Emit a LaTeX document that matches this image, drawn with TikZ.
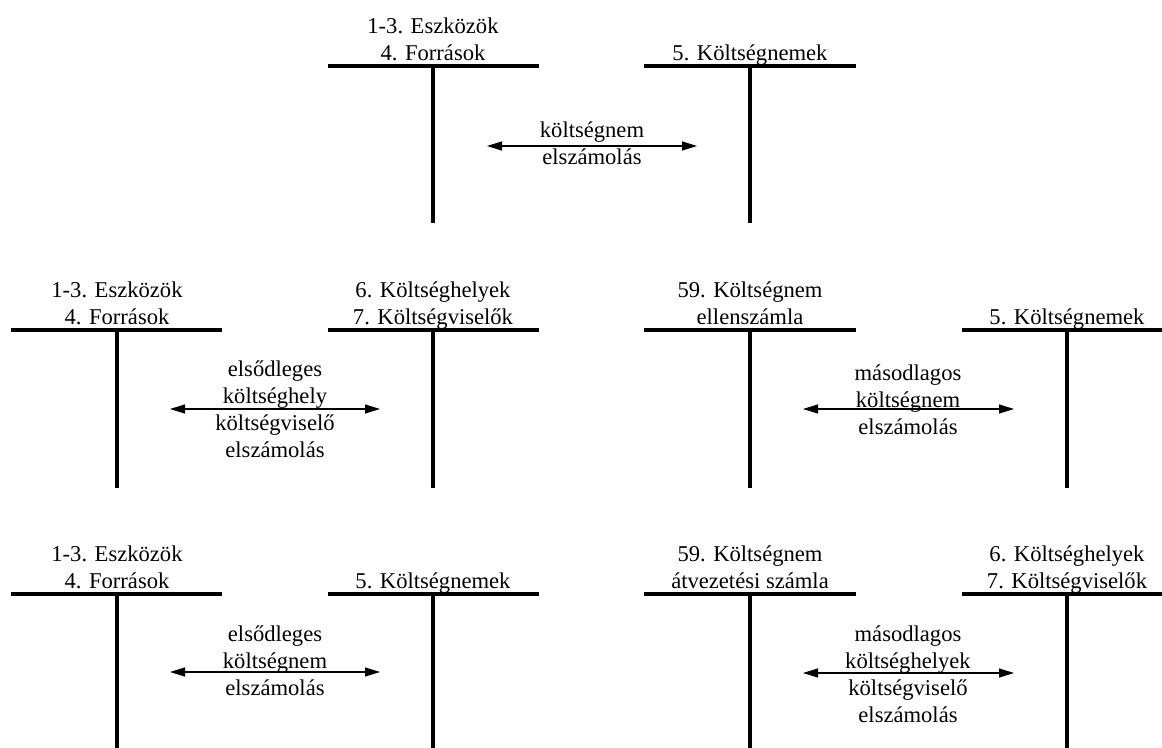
\documentclass[tikz,border=0pt]{standalone}
\usepackage{fontspec}
\setmainfont{Liberation Serif}
\usetikzlibrary{arrows.meta}

\begin{document}
\begin{tikzpicture}[x=0.5pt, y=-0.5pt,
    every node/.style={font=\fontsize{11.3}{13.5}\selectfont},
    acct/.style={line width=1.6pt},
    twoway/.style={{Triangle[length=7.5pt,width=4.5pt]}-{Triangle[length=7.5pt,width=4.5pt]}, line width=0.6pt},
    title/.style={anchor=south, align=center, inner sep=0pt, text depth=0pt}]

    \useasboundingbox (0,0) rectangle (1162,748);

    % top row
    \draw[acct] (328,66) -- (539,66);
    \draw[acct] (433,66) -- (433,223);
    \draw[acct] (644,66) -- (856,66);
    \draw[acct] (750,66) -- (750,223);

    \node[title] (eszk1) at (433,61) {1-3. Eszközök\\4. Források};
    \node[title] (knem1) at (750,61) {5. Költségnemek};

    \coordinate (a1) at (487,146);
    \coordinate (b1) at (697,146);
    \draw[twoway] (a1) -- (b1);
    \node[title] (szam1) at (592,165) {költségnem\\elszámolás};

    % middle row
    \draw[acct] (11,330) -- (222,330);
    \draw[acct] (117,330) -- (117,488);
    \draw[acct] (328,330) -- (539,330);
    \draw[acct] (433,330) -- (433,488);
    \draw[acct] (644,330) -- (856,330);
    \draw[acct] (750,330) -- (750,488);
    \draw[acct] (962,330) -- (1162,330);
    \draw[acct] (1067,330) -- (1067,488);

    \node[title] (eszk2) at (117,325) {1-3. Eszközök\\4. Források};
    \node[title] (khely2) at (433,325) {6. Költséghelyek\\7. Költségviselők};
    \node[title] (ellen2) at (750,325) {59. Költségnem\\ellenszámla};
    \node[title] (knem2) at (1067,325) {5. Költségnemek};

    \coordinate (a2) at (170,409);
    \coordinate (b2) at (380,409);
    \draw[twoway] (a2) -- (b2);
    \node[title] (szam2) at (275,458) {elsődleges\\költséghely\\költségviselő\\elszámolás};

    \coordinate (c2) at (803,409);
    \coordinate (d2) at (1014,409);
    \draw[twoway] (c2) -- (d2);
    \node[title] (masod2) at (908,435) {másodlagos\\költségnem\\elszámolás};

    % bottom row
    \draw[acct] (11,594) -- (222,594);
    \draw[acct] (117,594) -- (117,748);
    \draw[acct] (328,594) -- (539,594);
    \draw[acct] (433,594) -- (433,748);
    \draw[acct] (644,594) -- (856,594);
    \draw[acct] (750,594) -- (750,748);
    \draw[acct] (962,594) -- (1162,594);
    \draw[acct] (1067,594) -- (1067,748);

    \node[title] (eszk3) at (117,589) {1-3. Eszközök\\4. Források};
    \node[title] (knem3) at (433,589) {5. Költségnemek};
    \node[title] (atvez3) at (750,589) {59. Költségnem\\átvezetési számla};
    \node[title] (khely3) at (1067,589) {6. Költséghelyek\\7. Költségviselők};

    \coordinate (a3) at (170,672);
    \coordinate (b3) at (380,672);
    \draw[twoway] (a3) -- (b3);
    \node[title] (szam3) at (275,696) {elsődleges\\költségnem\\elszámolás};

    \coordinate (c3) at (803,673);
    \coordinate (d3) at (1014,673);
    \draw[twoway] (c3) -- (d3);
    \node[title] (masod3) at (908,723) {másodlagos\\költséghelyek\\költségviselő\\elszámolás};

\end{tikzpicture}
\end{document}
